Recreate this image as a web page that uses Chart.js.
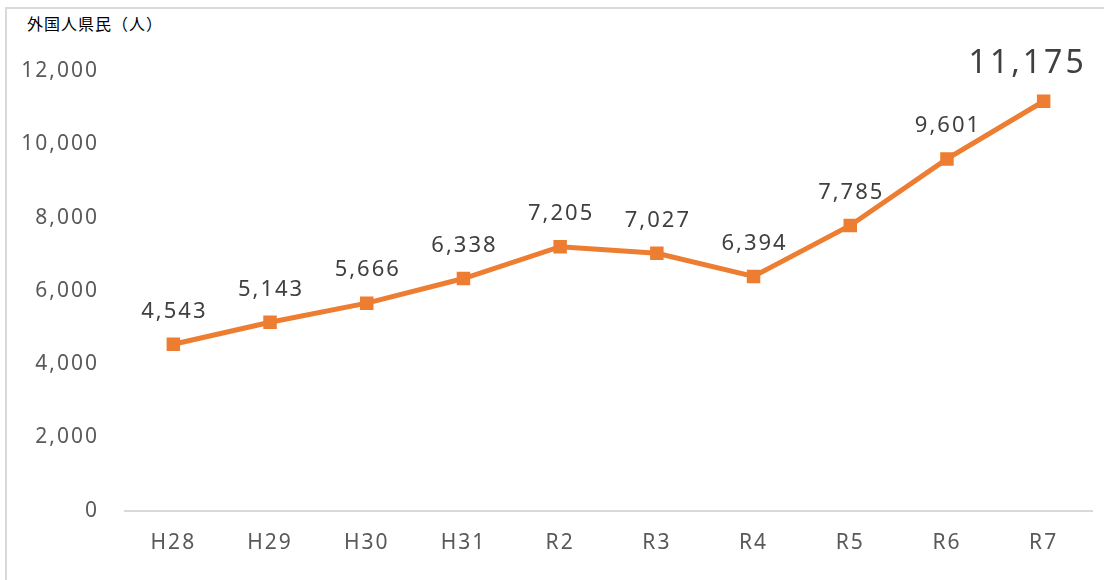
<!DOCTYPE html>
<html>
<head>
<meta charset="utf-8">
<script src="https://cdn.jsdelivr.net/npm/chart.js@4.4.1/dist/chart.umd.min.js"></script>
<style>
  html, body { margin: 0; padding: 0; background: #fff; }
  #wrap { position: relative; width: 1104px; height: 580px; overflow: hidden; }
  #frame { position: absolute; left: 5px; top: 7px; width: 1200px; height: 700px;
           border-left: 2px solid #d9d9d9; border-top: 2px solid #d9d9d9; }
  #title { position: absolute; left: 27px; top: 11px; font: 16px "Noto Sans CJK JP", sans-serif;
           letter-spacing: 1px; color: #000; }
  canvas { position: absolute; left: 0; top: 0; }
</style>
</head>
<body>
<div id="wrap">
  <div id="frame"></div>
  <div id="title">外国人県民（人）</div>
  <canvas id="myLineChart" width="1104" height="580"></canvas>
</div>
<script>
const categories = ['H28', 'H29', 'H30', 'H31', 'R2', 'R3', 'R4', 'R5', 'R6', 'R7'];
const residents = [4543, 5143, 5666, 6338, 7205, 7027, 6394, 7785, 9601, 11175];
const yTicks = [0, 2000, 4000, 6000, 8000, 10000, 12000];

const fontFamily = '"Noto Sans", "DejaVu Sans", sans-serif';

// wider spacing for all canvas text, like the original's font
const spacing = {
    id: 'spacing',
    beforeDraw(chart) { chart.ctx.letterSpacing = '2px'; }
};

// value labels above each point; the last one is larger
const valueLabels = {
    id: 'valueLabels',
    afterDatasetsDraw(chart) {
        const ctx = chart.ctx;
        const meta = chart.getDatasetMeta(0);
        ctx.save();
        ctx.fillStyle = '#404040';
        ctx.textAlign = 'center';
        ctx.textBaseline = 'middle';
        meta.data.forEach((pt, i) => {
            const last = i === meta.data.length - 1;
            ctx.letterSpacing = last ? '3px' : '2px';
            ctx.font = (last ? '32px ' : '22px ') + fontFamily;
            ctx.fillText(residents[i].toLocaleString('en-US'), pt.x + (last ? -16 : 1), pt.y - (last ? 37 : 33));
        });
        ctx.restore();
    }
};

const ctx = document.getElementById('myLineChart').getContext('2d');
const myLineChart = new Chart(ctx, {
    type: 'line',
    data: {
        labels: categories,
        datasets: [{
            data: residents,
            borderColor: '#ED7D31',
            backgroundColor: '#ED7D31',
            borderWidth: 5,
            pointStyle: 'rect',
            pointRadius: 6,
            pointHoverRadius: 6,
            tension: 0
        }]
    },
    options: {
        responsive: false,
        animation: false,
        layout: { padding: { top: 71, right: 12, bottom: 12, left: 0 } },
        plugins: {
            legend: { display: false },
            tooltip: { enabled: false }
        },
        scales: {
            x: {
                offset: true,
                grid: { display: false },
                border: { display: true, color: '#d9d9d9', width: 2 },
                ticks: { color: '#595959', font: { family: fontFamily, size: 21 }, padding: 12 }
            },
            y: {
                min: 0,
                max: 12000,
                afterBuildTicks(axis) { axis.ticks = yTicks.map(v => ({ value: v })); },
                afterFit(axis) { axis.width = 125; },
                grid: { display: false, drawTicks: false },
                border: { display: false },
                ticks: {
                    color: '#595959',
                    font: { family: fontFamily, size: 21 },
                    padding: 26,
                    callback: v => v.toLocaleString('en-US')
                }
            }
        }
    },
    plugins: [spacing, valueLabels]
});
</script>
</body>
</html>
